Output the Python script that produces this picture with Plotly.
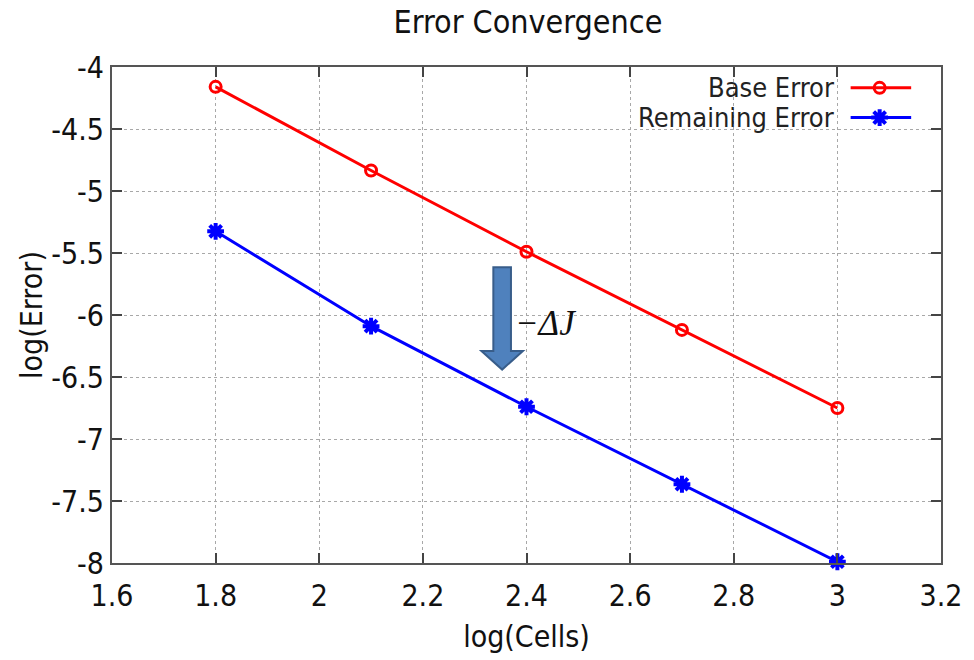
import plotly.graph_objects as go

cells = [1.8, 2.1, 2.4, 2.7, 3.0]
base_error = [-4.16, -4.835, -5.49, -6.12, -6.75]
remaining_error = [-5.325, -6.09, -6.74, -7.365, -7.99]
series_names = ["Base Error", "Remaining Error"]
x_ticks = [1.6, 1.8, 2.0, 2.2, 2.4, 2.6, 2.8, 3.0, 3.2]
x_tick_labels = ["1.6", "1.8", "2", "2.2", "2.4", "2.6", "2.8", "3", "3.2"]
y_ticks = [-4, -4.5, -5, -5.5, -6, -6.5, -7, -7.5, -8]
y_tick_labels = ["-4", "-4.5", "-5", "-5.5", "-6", "-6.5", "-7", "-7.5", "-8"]

FONT = "DejaVu Sans Condensed, DejaVu Sans"
RED = "#ff0000"
BLUE = "#0000ff"
TXT = "#111111"

fig = go.Figure()
fig.add_trace(go.Scatter(
    x=cells, y=base_error, mode="lines+markers", name=series_names[0],
    line=dict(color=RED, width=3),
    marker=dict(symbol="circle-open", size=11, color=RED, line=dict(width=3, color=RED)),
    showlegend=False, cliponaxis=False))
fig.add_trace(go.Scatter(
    x=cells, y=remaining_error, mode="lines+markers", name=series_names[1],
    line=dict(color=BLUE, width=3),
    marker=dict(symbol="asterisk-open", size=14, color=BLUE, line=dict(width=4, color=BLUE)),
    showlegend=False, cliponaxis=False))

# gnuplot-style legend samples (text on the left, sample on the right)
legend_rows = [(0.958, series_names[0], RED, "circle-open", 11, 3),
               (0.898, series_names[1], BLUE, "asterisk-open", 14, 4)]
for yy, name, col, sym, sz, lw in legend_rows:
    fig.add_trace(go.Scatter(
        x=[0.891, 0.964], y=[yy, yy], mode="lines", line=dict(color=col, width=3),
        xaxis="x2", yaxis="y2", showlegend=False, hoverinfo="skip", cliponaxis=False))
    fig.add_trace(go.Scatter(
        x=[0.926], y=[yy], mode="markers",
        marker=dict(symbol=sym, size=sz, color=col, line=dict(width=lw, color=col)),
        xaxis="x2", yaxis="y2", showlegend=False, hoverinfo="skip", cliponaxis=False))
    fig.add_annotation(x=0.873, y=yy, xref="x2", yref="y2", text=name,
                       showarrow=False, xanchor="right", yanchor="middle",
                       font=dict(family=FONT, size=27, color="#222"))

# arrow annotation (-ΔJ)
ax_c, sh, hh = 2.353, 0.017, 0.04
y_top, y_head, y_tip = -5.615, -6.29, -6.44
path = (f"M {ax_c-sh},{y_top} L {ax_c+sh},{y_top} L {ax_c+sh},{y_head} "
        f"L {ax_c+hh},{y_head} L {ax_c},{y_tip} L {ax_c-hh},{y_head} "
        f"L {ax_c-sh},{y_head} Z")
fig.add_shape(type="path", path=path, xref="x", yref="y",
              fillcolor="#4f81bd", line=dict(color="#385d8a", width=2))
fig.add_annotation(x=2.374, y=-6.07, xref="x", yref="y", text="<i>−ΔJ</i>",
                   showarrow=False, xanchor="left", yanchor="middle",
                   font=dict(family="Liberation Serif", size=35, color=TXT))

axis_common = dict(
    showline=True, linecolor="#555555", linewidth=2, mirror="ticks",
    ticks="inside", ticklen=10, tickwidth=2, tickcolor="#444444",
    showgrid=True, gridcolor="#a8a8a8", griddash="dot", gridwidth=1,
    zeroline=False, tickfont=dict(family=FONT, size=30, color=TXT),
)
fig.update_layout(
    width=974, height=660,
    margin=dict(l=112, r=26, t=67, b=95),
    plot_bgcolor="white", paper_bgcolor="white",
    title=dict(text="Error Convergence", x=0.542, xanchor="center", y=0.967, yanchor="middle",
               font=dict(family=FONT, size=32, color=TXT)),
    xaxis=dict(range=[1.6, 3.2], tickvals=x_ticks, ticktext=x_tick_labels,
               ticklabelstandoff=5,
               title=dict(text="log(Cells)", font=dict(family=FONT, size=30, color=TXT), standoff=14),
               **axis_common),
    yaxis=dict(range=[-8, -4], tickvals=y_ticks, ticktext=y_tick_labels,
               title=dict(text="log(Error)", font=dict(family=FONT, size=30, color=TXT), standoff=0),
               **axis_common),
    xaxis2=dict(overlaying="x", range=[0, 1], visible=False, fixedrange=True),
    yaxis2=dict(overlaying="y", range=[0, 1], visible=False, fixedrange=True),
    showlegend=False,
)
fig.write_html("out.html")
